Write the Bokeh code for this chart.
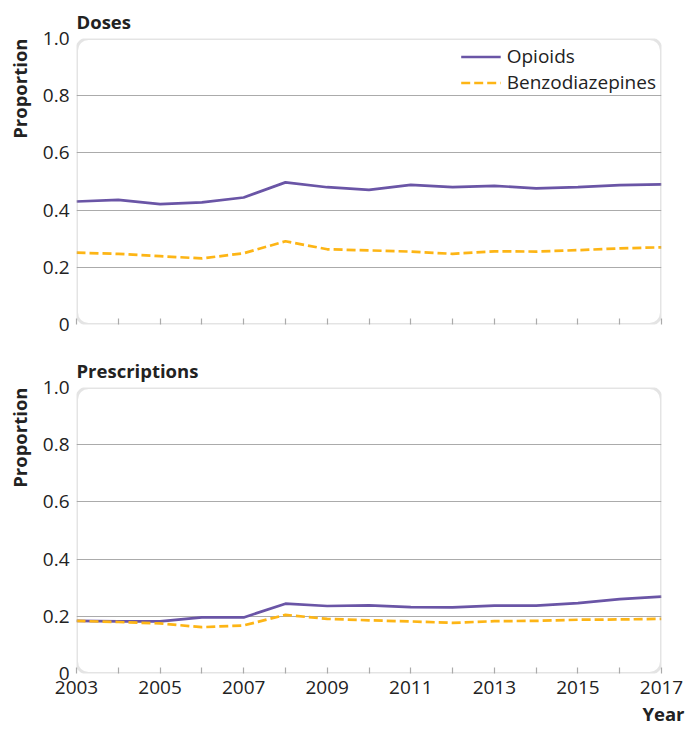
from bokeh.plotting import figure
from bokeh.models import Range1d, FixedTicker, BoxAnnotation, Title, Legend, LegendItem, PrintfTickFormatter
from bokeh.layouts import column
from bokeh.embed import file_html
from bokeh.resources import INLINE

years = list(range(2003, 2018))
doses_opioids = [0.430, 0.436, 0.421, 0.427, 0.444, 0.497, 0.480, 0.471, 0.488, 0.480, 0.485, 0.476, 0.480, 0.487, 0.490]
doses_benzo = [0.251, 0.247, 0.239, 0.231, 0.249, 0.291, 0.263, 0.259, 0.255, 0.247, 0.256, 0.255, 0.260, 0.266, 0.270]
presc_opioids = [0.184, 0.182, 0.182, 0.196, 0.196, 0.244, 0.236, 0.238, 0.232, 0.231, 0.237, 0.237, 0.246, 0.260, 0.269]
presc_benzo = [0.184, 0.180, 0.175, 0.162, 0.168, 0.205, 0.191, 0.186, 0.182, 0.177, 0.183, 0.184, 0.188, 0.189, 0.191]
y_ticks = [0, 0.2, 0.4, 0.6, 0.8, 1.0]
grid_ticks = [0.2, 0.4, 0.6, 0.8]
label_years = [2003, 2005, 2007, 2009, 2011, 2013, 2015, 2017]
minor_years = [2004, 2006, 2008, 2010, 2012, 2014, 2016]

OPI = "#6a55a6"
BEN = "#fdb515"
GRAY = "#ababab"
TXT = "#222222"
FONT = "Open Sans"
BFONT = "Open Sans"


def panel(title, opi, ben, bottom, legend):
    h = 344 if not bottom else 385
    p = figure(width=686, height=h, x_range=Range1d(2003, 2017), y_range=Range1d(0, 1),
               output_backend="svg", toolbar_location=None,
               min_border_left=76, min_border_right=25,
               min_border_top=38 if not bottom else 43,
               min_border_bottom=20 if not bottom else 56)
    p.outline_line_color = None
    p.background_fill_color = "white"
    p.xgrid.visible = False
    p.ygrid.ticker = FixedTicker(ticks=grid_ticks)
    p.ygrid.grid_line_color = GRAY
    p.ygrid.grid_line_width = 1.2

    box = BoxAnnotation(fill_alpha=0, line_color="#a4a4a4", line_width=3, border_radius=12)
    p.add_layout(box)

    ya = p.yaxis[0]
    ya.ticker = FixedTicker(ticks=y_ticks)
    ya.formatter = PrintfTickFormatter(format="%.1f")
    ya.major_label_overrides = {0: "0"}
    ya.axis_line_color = None
    ya.major_tick_line_color = None
    ya.minor_tick_line_color = None
    ya.major_label_standoff = 1
    ya.major_label_text_font = FONT
    ya.major_label_text_font_size = "19px"
    ya.major_label_text_color = TXT
    ya.axis_label = " "
    ya.axis_label_text_font_size = "1px"
    ya.axis_label_standoff = 2

    xa = p.xaxis[0]
    xa.ticker = FixedTicker(ticks=label_years, minor_ticks=minor_years)
    xa.axis_line_color = None
    xa.major_tick_in = 6
    xa.major_tick_out = 0
    xa.minor_tick_in = 6
    xa.minor_tick_out = 0
    xa.major_tick_line_color = GRAY
    xa.minor_tick_line_color = GRAY
    xa.major_tick_line_width = 1.2
    xa.minor_tick_line_width = 1.2
    xa.major_label_text_font = FONT
    xa.major_label_text_font_size = "19px"
    xa.major_label_text_color = TXT
    xa.major_label_standoff = 7
    if not bottom:
        xa.major_label_overrides = {y: "" for y in label_years}

    r1 = p.line(years, opi, line_color=OPI, line_width=2.7)
    r2 = p.line(years, ben, line_color=BEN, line_width=2.7, line_dash="9 4")

    p.add_layout(Title(text=title, text_font=BFONT, text_font_style="bold",
                       text_font_size="18.5px", text_color=TXT, align="left", offset=0,
                       standoff=9), "above")
    p.add_layout(Title(text="Proportion", text_font=BFONT, text_font_style="bold",
                       text_font_size="18.5px", text_color=TXT, align="right", standoff=4), "left")
    if bottom:
        p.add_layout(Title(text="Year", text_font=BFONT, text_font_style="bold",
                           text_font_size="18.5px", text_color=TXT, align="right", offset=-23,
                           standoff=5), "below")
    if legend:
        lg = Legend(items=[LegendItem(label="Opioids", renderers=[r1]),
                           LegendItem(label="Benzodiazepines", renderers=[r2])],
                    location="top_right", border_line_color=None, background_fill_alpha=0,
                    label_text_font=FONT, label_text_font_size="19px", label_text_color=TXT,
                    glyph_width=40, glyph_height=21, label_height=21, label_standoff=6,
                    spacing=0, padding=4, margin=5)
        p.add_layout(lg, "center")
    return p


top = panel("Doses", doses_opioids, doses_benzo, False, True)
bot = panel("Prescriptions", presc_opioids, presc_benzo, True, False)
layout = column(top, bot, spacing=0)
open("out.html", "w").write(file_html(layout, INLINE))
